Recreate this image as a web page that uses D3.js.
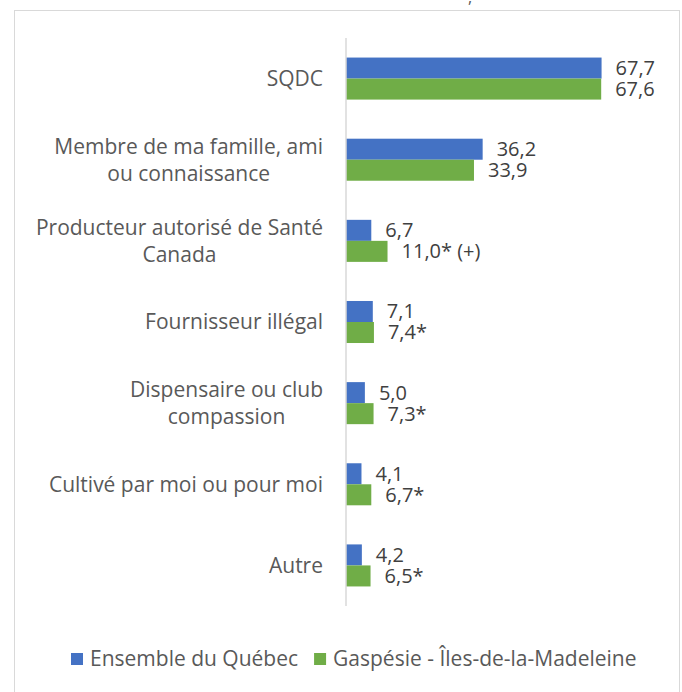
<!DOCTYPE html>
<html>
<head>
<meta charset="utf-8">
<script src="https://cdn.jsdelivr.net/npm/d3@7"></script>
<style>
  body { margin: 0; background: #fff; }
  svg text { font-family: "Open Sans", sans-serif; }
</style>
</head>
<body>
<div id="chart"></div>
<script>
// categories, top to bottom
const categories = [
  ["SQDC"],
  ["Membre de ma famille, ami", "ou connaissance"],
  ["Producteur autorisé de Santé", "Canada"],
  ["Fournisseur illégal"],
  ["Dispensaire ou club", "compassion"],
  ["Cultivé par moi ou pour moi"],
  ["Autre"]
];
const seriesNames = ["Ensemble du Québec", "Gaspésie - Îles-de-la-Madeleine"];
const quebecValues = [67.7, 36.2, 6.7, 7.1, 5.0, 4.1, 4.2];
const gaspesieValues = [67.6, 33.9, 11.0, 7.4, 7.3, 6.7, 6.5];
const quebecLabels = ["67,7", "36,2", "6,7", "7,1", "5,0", "4,1", "4,2"];
const gaspesieLabels = ["67,6", "33,9", "11,0* (+)", "7,4*", "7,3*", "6,7*", "6,5*"];
const colors = ["#4472c4", "#70ad47"];

const width = 682, height = 692;
const margin = {top: 38, right: 34, bottom: 86, left: 346};

const svg = d3.select('#chart')
  .append('svg')
  .attr('width', width)
  .attr('height', height);

// chart frame (bottom edge falls outside the picture)
svg.append('rect')
  .attr('x', 14.5).attr('y', 10.5)
  .attr('width', 665).attr('height', 720)
  .attr('fill', 'none')
  .attr('stroke', '#d9d9d9');

// cropped title fragment
svg.append('text')
  .attr('x', 468).attr('y', 3)
  .attr('fill', '#595959')
  .style('font-size', '16px')
  .text(',');

const keys = categories.map(c => c.join(' '));

const yScale = d3.scaleBand()
  .domain(keys)
  .range([margin.top, height - margin.bottom])
  .paddingInner(0.482)
  .paddingOuter(0.241);

const subScale = d3.scaleBand()
  .domain([0, 1])
  .range([0, yScale.bandwidth()]);

const xScale = d3.scaleLinear()
  .domain([0, 80])
  .range([margin.left, width - margin.right]);

const rows = keys.map((k, i) => ({
  key: k,
  lines: categories[i],
  vals: [quebecValues[i], gaspesieValues[i]],
  labels: [quebecLabels[i], gaspesieLabels[i]]
}));

const group = svg.selectAll('.row')
  .data(rows)
  .enter()
  .append('g')
  .attr('class', 'row')
  .attr('transform', d => 'translate(0,' + yScale(d.key) + ')');

group.selectAll('rect')
  .data(d => d.vals.map((v, s) => ({v: v, s: s})))
  .enter()
  .append('rect')
  .attr('x', xScale(0))
  .attr('y', d => subScale(d.s))
  .attr('width', d => xScale(d.v) - xScale(0))
  .attr('height', subScale.bandwidth())
  .attr('fill', d => colors[d.s]);

group.selectAll('.val')
  .data(d => d.vals.map((v, s) => ({v: v, s: s, label: d.labels[s]})))
  .enter()
  .append('text')
  .attr('class', 'val')
  .attr('x', d => xScale(d.v) + 14)
  .attr('y', d => subScale(d.s) + subScale.bandwidth() / 2)
  .attr('dy', '0.35em')
  .attr('fill', '#404040')
  .style('font-size', '20px')
  .text(d => d.label);

// y axis line
svg.append('line')
  .attr('x1', xScale(0)).attr('x2', xScale(0))
  .attr('y1', margin.top).attr('y2', height - margin.bottom)
  .attr('stroke', '#d9d9d9')
  .attr('stroke-width', 1.5);

// category labels: centred lines, block right-aligned
const labelRight = xScale(0) - 23;
const lineH = 27;
group.each(function(d) {
  const g = d3.select(this);
  const cy = yScale.bandwidth() / 2;
  const texts = d.lines.map((l, i) => g.append('text')
    .attr('y', cy + (i - (d.lines.length - 1) / 2) * lineH)
    .attr('dy', '0.35em')
    .attr('text-anchor', 'middle')
    .attr('fill', '#595959')
    .style('font-size', '21px')
    .text(l));
  const w = d3.max(texts, t => t.node().getComputedTextLength());
  texts.forEach(t => t.attr('x', labelRight - w / 2));
});

// legend
const legend = svg.append('g').attr('transform', 'translate(71,659)');
let lx = 0;
seriesNames.forEach((name, i) => {
  legend.append('rect')
    .attr('x', lx).attr('y', -6)
    .attr('width', 12).attr('height', 12)
    .attr('fill', colors[i]);
  const t = legend.append('text')
    .attr('x', lx + 19).attr('y', 0)
    .attr('dy', '0.35em')
    .attr('fill', '#595959')
    .style('font-size', '21px')
    .text(name);
  lx += 19 + t.node().getComputedTextLength() + 16;
});
</script>
</body>
</html>
